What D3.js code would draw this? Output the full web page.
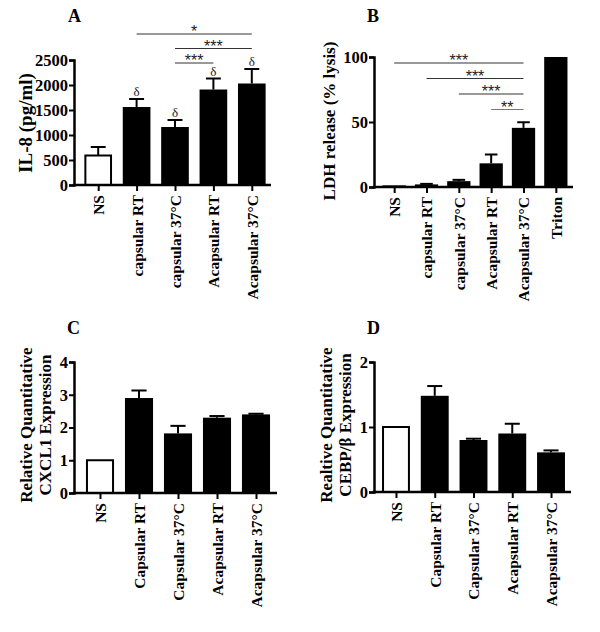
<!DOCTYPE html>
<html>
<head>
<meta charset="utf-8">
<script src="https://cdn.jsdelivr.net/npm/d3@7"></script>
<style>
  body { margin: 0; background: #fff; }
  svg { display: block; font-family: "Liberation Serif", "Times New Roman", serif; }
</style>
</head>
<body>
<div id="chart"></div>
<script>
// Panel A - IL-8
const groupsA = ['NS', 'capsular RT', 'capsular 37°C', 'Acapsular RT', 'Acapsular 37°C'];
const il8Mean = [590, 1560, 1160, 1910, 2030];
const il8Err = [170, 160, 140, 220, 290];
const il8Ticks = [0, 500, 1000, 1500, 2000, 2500];
const il8Delta = [false, true, true, true, true];
const il8Sig = [[1, 4, '*'], [2, 4, '***'], [2, 3, '***']];

// Panel B - LDH
const groupsB = ['NS', 'capsular RT', 'capsular 37°C', 'Acapsular RT', 'Acapsular 37°C', 'Triton'];
const ldhMean = [0.5, 2, 4.5, 18.2, 45.5, 100];
const ldhErr = [0, 0.4, 1, 6.8, 4.3, 0];
const ldhTicks = [0, 50, 100];
const ldhSig = [[0, 4, '***'], [1, 4, '***'], [2, 4, '***'], [3, 4, '**']];

// Panels C and D - qPCR
const groupsCD = ['NS', 'Capsular RT', 'Capsular 37°C', 'Acapsular RT', 'Acapsular 37°C'];
const cxcl1Mean = [1, 2.9, 1.82, 2.3, 2.4];
const cxcl1Err = [0, 0.23, 0.23, 0.05, 0.02];
const cxcl1Ticks = [0, 1, 2, 3, 4];
const cebpMean = [1, 1.48, 0.8, 0.9, 0.61];
const cebpErr = [0, 0.15, 0.02, 0.15, 0.03];
const cebpTicks = [0, 1, 2];

const svg = d3.select('#chart')
    .append('svg')
    .attr('width', 600)
    .attr('height', 632);

svg.append('rect').attr('width', 600).attr('height', 632).attr('fill', '#fff');

function drawPanel(p) {
    const g = svg.append('g');

    const x = d3.scalePoint()
        .domain(p.groups)
        .range(p.xRange)
        .padding(0.5);
    const step = x.step();
    const bw = step * 0.72;

    const y = d3.scaleLinear()
        .domain([0, d3.max(p.ticks)])
        .range([p.y0, p.yTop]);

    // bars
    g.selectAll('rect.bar')
        .data(p.mean)
        .enter()
        .append('rect')
        .attr('class', 'bar')
        .attr('x', (d, i) => x(p.groups[i]) - bw / 2 + (i === 0 ? 1 : 0))
        .attr('y', d => y(d))
        .attr('width', (d, i) => i === 0 ? bw - 2 : bw)
        .attr('height', d => y(0) - y(d))
        .attr('fill', (d, i) => i === 0 ? '#fff' : '#000')
        .attr('stroke', (d, i) => i === 0 ? '#000' : 'none')
        .attr('stroke-width', 2);

    // error bars (upper only)
    p.mean.forEach((m, i) => {
        const e = p.err[i];
        if (!e) return;
        const cx = x(p.groups[i]);
        g.append('line')
            .attr('x1', cx).attr('x2', cx)
            .attr('y1', y(m)).attr('y2', y(m + e))
            .attr('stroke', '#000').attr('stroke-width', 2);
        g.append('line')
            .attr('x1', cx - bw * 0.27).attr('x2', cx + bw * 0.27)
            .attr('y1', y(m + e)).attr('y2', y(m + e))
            .attr('stroke', '#000').attr('stroke-width', 2);
        if (p.delta && p.delta[i]) {
            g.append('text')
                .attr('x', cx)
                .attr('y', y(m + e) - 3)
                .attr('text-anchor', 'middle')
                .attr('font-size', 13)
                .attr('fill', '#222')
                .text('δ');
        }
    });

    // y axis
    const yAxis = g.append('g')
        .attr('transform', `translate(${p.axisX},0)`)
        .call(d3.axisLeft(y).tickValues(p.ticks).tickSizeOuter(0).tickSize(5).tickFormat(d3.format('d')));
    yAxis.select('.domain').attr('stroke-width', 2.5);
    yAxis.selectAll('.tick line').attr('stroke-width', 2);
    yAxis.selectAll('.tick text')
        .attr('x', -6)
        .attr('font-family', '"Liberation Serif", serif')
        .attr('font-weight', 'bold')
        .attr('font-size', 16.5)
        .attr('fill', '#000');

    // x axis
    const xAxis = g.append('g')
        .attr('transform', `translate(0,${p.y0})`)
        .call(d3.axisBottom(x).tickSize(6).tickSizeOuter(0));
    xAxis.select('.domain').remove();
    xAxis.selectAll('.tick line').attr('stroke-width', 2);
    xAxis.selectAll('.tick text')
        .attr('transform', 'rotate(-90)')
        .attr('x', -10)
        .attr('y', 0)
        .attr('dy', '0.35em')
        .style('text-anchor', 'end')
        .attr('font-family', '"Liberation Serif", serif')
        .attr('font-weight', 'bold')
        .attr('font-size', 15.5)
        .attr('fill', '#000');
    g.append('line')
        .attr('x1', p.axisX - 1.25).attr('x2', p.axisEnd)
        .attr('y1', p.y0).attr('y2', p.y0)
        .attr('stroke', '#000').attr('stroke-width', 2.5);

    // y axis title (one or two lines)
    p.yTitle.forEach((t, i) => {
        g.append('text')
            .attr('transform', `translate(${p.titleX + i * 19},${p.titleY}) rotate(-90)`)
            .attr('text-anchor', 'middle')
            .attr('dy', '0.35em')
            .attr('font-weight', 'bold')
            .attr('font-size', p.titleSize)
            .text(t);
    });

    // panel letter
    g.append('text')
        .attr('x', p.letterX)
        .attr('y', p.letterY)
        .attr('font-weight', 'bold')
        .attr('font-size', 18)
        .text(p.letter);

    // significance brackets
    if (p.sig) {
        p.sig.forEach(([a, b, label], i) => {
            const ly = p.sigTop + i * p.sigStep;
            const x1 = x(p.groups[a]);
            const x2 = x(p.groups[b]);
            const col = (p.sigGrey && i === p.sig.length - 1) ? '#777' : '#333';
            g.append('line')
                .attr('x1', x1).attr('x2', x2)
                .attr('y1', ly).attr('y2', ly)
                .attr('stroke', col).attr('stroke-width', 1);
            g.append('text')
                .attr('x', (x1 + x2) / 2)
                .attr('y', ly + 3)
                .attr('text-anchor', 'middle')
                .attr('font-family', '"Liberation Sans", Arial, sans-serif')
                .attr('font-size', 16)
                .attr('fill', '#222')
                .text(label);
        });
    }
}

drawPanel({
    letter: 'A', letterX: 68, letterY: 22,
    groups: groupsA, mean: il8Mean, err: il8Err, ticks: il8Ticks, delta: il8Delta,
    xRange: [79, 271], axisX: 74, axisEnd: 271, y0: 185, yTop: 60,
    yTitle: ['IL-8 (pg/ml)'], titleSize: 19, titleX: 25, titleY: 123,
    sig: il8Sig, sigTop: 34, sigStep: 14.5
});

drawPanel({
    letter: 'B', letterX: 367, letterY: 22,
    groups: groupsB, mean: ldhMean, err: ldhErr, ticks: ldhTicks,
    xRange: [378, 572], axisX: 374, axisEnd: 573, y0: 187, yTop: 57,
    yTitle: ['LDH release (% lysis)'], titleSize: 17, titleX: 329, titleY: 121,
    sig: ldhSig, sigTop: 63, sigStep: 15.5, sigGrey: true
});

drawPanel({
    letter: 'C', letterX: 67, letterY: 334,
    groups: groupsCD, mean: cxcl1Mean, err: cxcl1Err, ticks: cxcl1Ticks,
    xRange: [80.5, 275.5], axisX: 74, axisEnd: 277, y0: 493, yTop: 362,
    yTitle: ['Relative Quantitative', 'CXCL1 Expression'], titleSize: 17, titleX: 26, titleY: 425
});

drawPanel({
    letter: 'D', letterX: 367, letterY: 334,
    groups: groupsCD, mean: cebpMean, err: cebpErr, ticks: cebpTicks,
    xRange: [376.6, 570.4], axisX: 374, axisEnd: 571, y0: 492, yTop: 362,
    yTitle: ['Realtive Quantitative', 'CEBP/β Expression'], titleSize: 17, titleX: 326, titleY: 425
});
</script>
</body>
</html>
